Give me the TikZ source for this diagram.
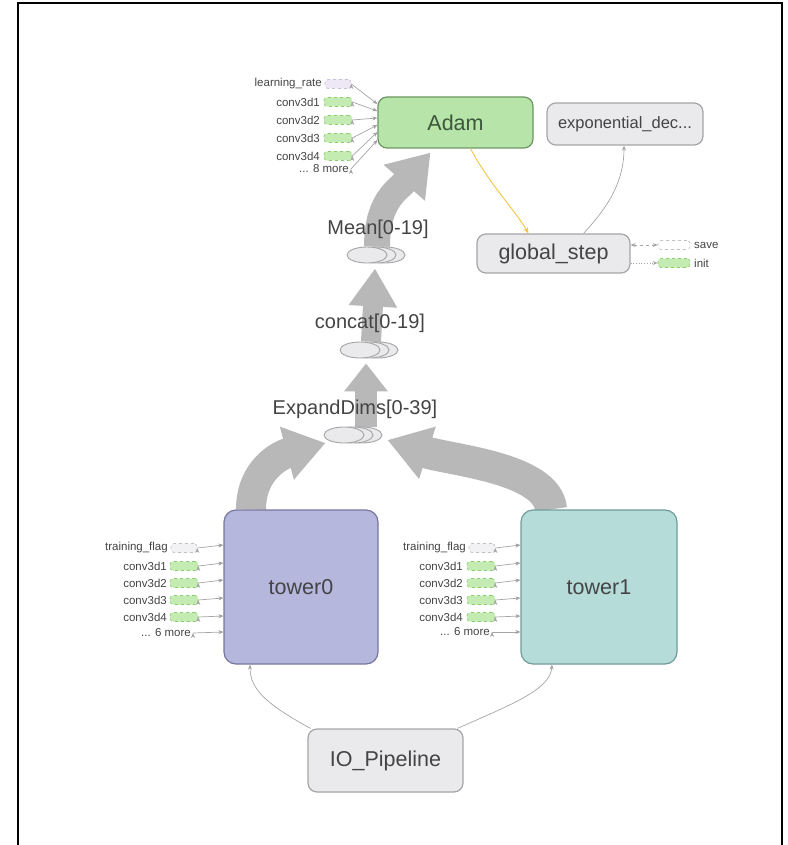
\documentclass[tikz,border=0pt]{standalone}
\usepackage{fontspec}
\setmainfont{Liberation Sans}
\usetikzlibrary{arrows.meta, backgrounds, shapes.geometric}

\definecolor{adamfill}{RGB}{183,228,168}
\definecolor{adamline}{RGB}{110,150,100}
\definecolor{adamtext}{RGB}{60,85,60}
\definecolor{grayfill}{RGB}{234,234,236}
\definecolor{grayline}{RGB}{165,165,168}
\definecolor{towerAfill}{RGB}{181,183,220}
\definecolor{towerAline}{RGB}{118,118,158}
\definecolor{towerBfill}{RGB}{182,220,218}
\definecolor{towerBline}{RGB}{112,156,154}
\definecolor{optext}{RGB}{68,68,70}
\definecolor{flowgray}{RGB}{184,184,184}
\definecolor{edgegray}{RGB}{165,165,165}
\definecolor{sumgreen}{RGB}{196,236,178}
\definecolor{sumgreenline}{RGB}{140,205,115}
\definecolor{sumlav}{RGB}{238,232,246}
\definecolor{sumlavline}{RGB}{200,190,220}
\definecolor{updyellow}{RGB}{240,196,70}

\begin{document}
\begin{tikzpicture}[x=1pt, y=-1pt,
  opbox/.style={rectangle, rounded corners=9pt, draw=grayline, fill=grayfill, line width=1.2pt, inner sep=0pt, text=optext, font=\fontsize{21.5}{24}\selectfont},
  seriesell/.style={ellipse, draw=grayline, fill=grayfill, line width=0.9pt, minimum width=40pt, minimum height=16pt, inner sep=0pt},
  serieslabel/.style={inner sep=0pt, text=optext, font=\fontsize{20}{23}\selectfont},
  inlabel/.style={anchor=east, inner sep=0pt, text=optext, font=\fontsize{11.5}{13}\selectfont},
  sumgreenbox/.style={rectangle, rounded corners=3pt, dashed, draw=sumgreenline, fill=sumgreen, line width=0.6pt, minimum width=28pt, minimum height=9pt, inner sep=0pt},
  sumgraybox/.style={rectangle, rounded corners=3pt, dashed, draw=grayline!70, fill=grayfill!60, line width=0.6pt, minimum width=26pt, minimum height=9pt, inner sep=0pt},
  thinedge/.style={draw=edgegray, line width=0.7pt, -{Stealth[length=5pt, width=4pt]}},
  bigflow/.style={draw=flowgray, line cap=butt}
]

\useasboundingbox (0,0) rectangle (787,845);

% FRAME
\draw[line width=2pt] (18,845) -- (18,3) -- (782,3) -- (782,845);

% OPERATION NODES
\node[opbox, fill=adamfill, draw=adamline, text=adamtext, minimum width=155pt, minimum height=51pt] (adam) at (455.5,122.5) {Adam};
\node[opbox, font=\fontsize{16.5}{19}\selectfont, minimum width=156pt, minimum height=42pt] (expDecay) at (625,124) {exponential\_dec...};
\node[opbox, minimum width=153pt, minimum height=39pt] (globalStep) at (553.5,253.5) {global\_step};
\node[opbox, fill=towerAfill, draw=towerAline, rounded corners=12pt, minimum width=154pt, minimum height=154pt] (tower0) at (301,587) {tower0};
\node[opbox, fill=towerBfill, draw=towerBline, rounded corners=12pt, minimum width=156pt, minimum height=154pt] (tower1) at (599,587) {tower1};
\node[opbox, minimum width=155pt, minimum height=63pt] (ioPipe) at (385.5,760.5) {IO\_Pipeline};

% SERIES NODES (stacked ellipses)
\node[seriesell] (meanStackC) at (385,255) {};
\node[seriesell] (meanStackB) at (376,255) {};
\node[seriesell] (meanStack) at (367,255) {};
\node[serieslabel] (meanLabel) at (378,229) {Mean[0-19]};

\node[seriesell] (concatStackC) at (378,350) {};
\node[seriesell] (concatStackB) at (369,350) {};
\node[seriesell] (concatStack) at (360,350) {};
\node[serieslabel] (concatLabel) at (370,323) {concat[0-19]};

\node[seriesell] (expandStackC) at (362,435) {};
\node[seriesell] (expandStackB) at (353,435) {};
\node[seriesell] (expandStack) at (344,435) {};
\node[serieslabel] (expandLabel) at (355,409) {ExpandDims[0-39]};

% INPUTS OF ADAM
\node[sumgraybox, fill=sumlav, draw=sumlavline] (adamLr) at (338,84) {};
\node[sumgreenbox] (adamC1) at (338,102) {};
\node[sumgreenbox] (adamC2) at (338,120) {};
\node[sumgreenbox] (adamC3) at (338,138) {};
\node[sumgreenbox] (adamC4) at (338,156) {};
\node[inlabel] (adamLrTxt) at (322,84) {learning\_rate};
\node[inlabel] (adamC1Txt) at (320,102) {conv3d1};
\node[inlabel] (adamC2Txt) at (320,120) {conv3d2};
\node[inlabel] (adamC3Txt) at (320,138) {conv3d3};
\node[inlabel] (adamC4Txt) at (320,156) {conv3d4};
\node[inlabel] (adamMore) at (349,169) {... 8 more};

% INPUTS OF TOWER0
\node[sumgraybox] (t0Flag) at (184,548) {};
\node[sumgreenbox] (t0C1) at (184,566) {};
\node[sumgreenbox] (t0C2) at (184,583) {};
\node[sumgreenbox] (t0C3) at (184,600) {};
\node[sumgreenbox] (t0C4) at (184,617) {};
\node[inlabel] (t0FlagTxt) at (168,548) {training\_flag};
\node[inlabel] (t0C1Txt) at (167,566) {conv3d1};
\node[inlabel] (t0C2Txt) at (167,583) {conv3d2};
\node[inlabel] (t0C3Txt) at (167,600) {conv3d3};
\node[inlabel] (t0C4Txt) at (167,617) {conv3d4};
\node[inlabel] (t0More) at (191,633) {... 6 more};

% INPUTS OF TOWER1
\node[sumgraybox] (t1Flag) at (482,548) {};
\node[sumgreenbox] (t1C1) at (481,566) {};
\node[sumgreenbox] (t1C2) at (481,583) {};
\node[sumgreenbox] (t1C3) at (481,600) {};
\node[sumgreenbox] (t1C4) at (481,617) {};
\node[inlabel] (t1FlagTxt) at (466,548) {training\_flag};
\node[inlabel] (t1C1Txt) at (463,566) {conv3d1};
\node[inlabel] (t1C2Txt) at (463,583) {conv3d2};
\node[inlabel] (t1C3Txt) at (463,600) {conv3d3};
\node[inlabel] (t1C4Txt) at (463,617) {conv3d4};
\node[inlabel] (t1More) at (490,632) {... 6 more};

% OUTPUTS OF GLOBAL_STEP
\node[sumgraybox, fill=white, minimum width=32pt] (saveBox) at (674,245) {};
\node[sumgreenbox, minimum width=32pt] (initBox) at (674,263) {};
\node[inlabel, anchor=west] (saveTxt) at (694,245) {save};
\node[inlabel, anchor=west] (initTxt) at (694,263) {init};

% THICK TENSOR FLOWS
\begin{scope}[on background layer]
\draw[bigflow, line width=22pt, -{Triangle[length=28pt, width=42pt]}] ([xshift=22pt]expandStack.north) -- ([xshift=6pt, yshift=-5pt]concatStack.south);
\draw[bigflow, line width=20pt, -{Triangle[length=38pt, width=46pt]}] ([xshift=11pt]concatStack.north) -- ([xshift=8pt, yshift=-5pt]meanStack.south);
\draw[bigflow, line width=26pt, -{Triangle[length=40pt, width=52pt]}] ([xshift=10pt]meanStack.north)
      .. controls (377,200) and (398,190) .. ([xshift=-25pt, yshift=-4pt]adam.south);
\draw[bigflow, line width=30pt, -{Triangle[length=40pt, width=52pt]}] ([xshift=-50pt]tower0.north)
      .. controls (251,470) and (280,455) .. ([xshift=2pt, yshift=-8pt]expandStack.west);
\draw[bigflow, line width=32pt, -{Triangle[length=42pt, width=52pt]}] ([xshift=-48pt]tower1.north)
      .. controls (548,468) and (450,460) .. ([xshift=5pt, yshift=-5pt]expandStackC.east);
\end{scope}

% THIN EDGES
\path[thinedge] (adamLr.east) edge ([yshift=18.5pt]adam.west);
\path[thinedge] (adamC1.east) edge ([yshift=11.5pt]adam.west);
\path[thinedge] (adamC2.east) edge ([yshift=4.5pt]adam.west);
\path[thinedge] (adamC3.east) edge ([yshift=-2.5pt]adam.west);
\path[thinedge] (adamC4.east) edge ([yshift=-9.5pt]adam.west);
\path[thinedge] ([xshift=2pt]adamMore.east) edge ([yshift=-17.5pt]adam.west);

\path[thinedge] (t0Flag.east) edge ([yshift=42pt]tower0.west);
\path[thinedge] (t0C1.east) edge ([yshift=24pt]tower0.west);
\path[thinedge] (t0C2.east) edge ([yshift=7pt]tower0.west);
\path[thinedge] (t0C3.east) edge ([yshift=-11pt]tower0.west);
\path[thinedge] (t0C4.east) edge ([yshift=-29pt]tower0.west);
\path[thinedge] ([xshift=2pt]t0More.east) edge ([yshift=-45pt]tower0.west);

\path[thinedge] (t1Flag.east) edge ([yshift=42pt]tower1.west);
\path[thinedge] (t1C1.east) edge ([yshift=24pt]tower1.west);
\path[thinedge] (t1C2.east) edge ([yshift=7pt]tower1.west);
\path[thinedge] (t1C3.east) edge ([yshift=-11pt]tower1.west);
\path[thinedge] (t1C4.east) edge ([yshift=-29pt]tower1.west);
\path[thinedge] ([xshift=2pt]t1More.east) edge ([yshift=-45pt]tower1.west);

\draw[thinedge, dashed, {Stealth[length=5pt, width=4pt]}-{Stealth[length=5pt, width=4pt]}] ([yshift=8.5pt]globalStep.east) -- (saveBox.west);
\draw[thinedge, dotted] ([yshift=-9.5pt]globalStep.east) -- (initBox.west);

% CURVED EDGES
\draw[thinedge, draw=updyellow, line width=0.9pt, -{Stealth[length=6pt, width=5pt]}] ([xshift=15pt]adam.south)
      .. controls (490,185) and (515,210) .. ([xshift=-25pt]globalStep.north);
\draw[thinedge] ([xshift=30pt]globalStep.north)
      .. controls (610,205) and (624,180) .. ([xshift=-1pt]expDecay.south);
\draw[thinedge] ([xshift=-75pt]ioPipe.north)
      .. controls (268,705) and (250,690) .. ([xshift=-51pt]tower0.south);
\draw[thinedge] ([xshift=72pt]ioPipe.north)
      .. controls (510,705) and (550,690) .. ([xshift=-47pt]tower1.south);

\end{tikzpicture}
\end{document}
